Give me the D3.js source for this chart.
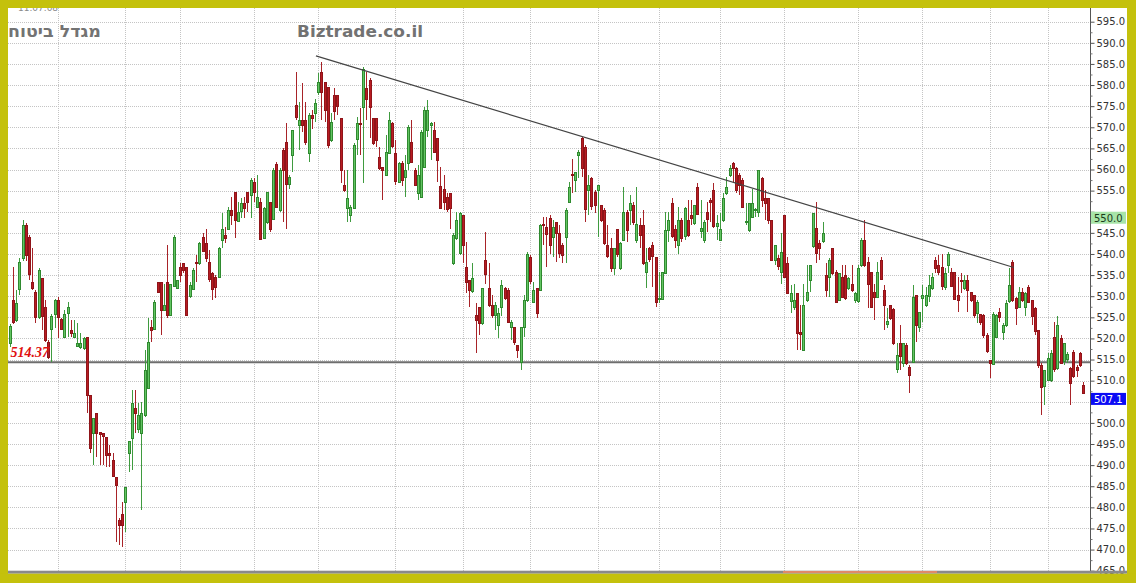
<!DOCTYPE html>
<html><head><meta charset="utf-8">
<script src="https://cdn.jsdelivr.net/npm/d3@7"></script>
<style>html,body{margin:0;padding:0;background:#fff;overflow:hidden}</style>
</head><body>
<svg id="c" width="1136" height="583"></svg>
<script>
// ---------- DATA ----------
const opens = [
518.9,529.1,524.4,531.9,539.0,546.9,544.1,533.4,531.1,525.1,
534.2,527.5,519.2,522.4,525.9,529.1,524.7,520.4,525.9,522.0,
520.4,518.0,517.9,517.6,520.4,506.6,497.5,502.3,497.9,497.5,
496.7,492.8,491.2,487.3,477.0,478.5,481.4,492.8,496.4,503.5,
498.5,497.5,501.9,508.2,522.8,522.4,533.4,533.4,526.7,533.4,
525.6,532.6,531.9,537.0,537.8,537.0,
529.9,531.8,538.2,537.8,544.1,542.5,538.2,535.4,534.6,534.6,
543.3,544.5,546.0,550.4,554.7,547.8,550.0,552.0,554.7,554.0,
557.1,551.2,552.4,543.7,547.6,552.4,548.4,561.4,550.4,564.6,
566.6,556.7,563.4,575.3,570.5,571.7,571.7,563.8,572.9,573.3,
578.4,583.2,580.8,579.6,567.0,577.6,577.6,572.1,556.3,550.8,
549.2,550.8,567.0,571.0,574.9,
579.2,581.2,572.1,572.1,563.0,560.7,558.7,563.8,570.9,563.8,
557.1,561.5,558.3,561.5,566.6,559.9,554.4,553.6,560.7,569.3,
570.5,569.3,567.4,556.0,555.5,553.6,554.4,537.8,543.7,540.1,
549.2,537.0,533.8,531.1,525.5,527.5,523.6,538.6,531.9,527.9,
525.5,523.2,527.5,531.9,531.5,522.8,522.8,518.4,514.5,522.8,
529.1,539.4,528.7,531.9,531.5,547.0,546.5,
548.4,544.1,547.6,544.9,542.1,544.1,552.4,558.9,557.5,563.4,
567.4,565.4,555.1,557.9,554.7,555.1,551.6,550.4,542.1,541.3,
536.6,546.0,536.6,543.3,550.0,550.4,551.6,543.3,546.9,546.9,
535.8,541.3,542.1,539.4,529.5,529.5,535.4,545.7,552.0,546.0,
542.1,548.0,544.1,548.0,549.2,547.3,555.9,545.3,543.3,550.0,
552.8,555.1,546.5,543.3,548.0,
554.4,558.7,561.5,560.3,558.7,557.5,547.6,545.7,548.8,550.4,
550.0,557.9,553.2,553.2,548.0,538.6,539.0,535.8,549.2,537.8,
528.7,527.5,530.7,521.6,517.3,529.1,533.8,541.7,546.1,542.5,
542.9,535.0,534.6,541.3,535.8,529.1,534.6,535.0,531.9,533.0,
529.1,528.7,537.4,543.3,538.2,535.8,531.1,529.9,538.6,531.5,
523.6,527.9,526.9,512.9,519.0,
514.1,518.4,513.3,514.5,530.3,522.8,529.5,527.9,529.9,531.9,
538.6,537.4,537.0,532.2,537.4,535.8,535.8,530.3,533.8,531.9,
533.8,531.1,530.3,526.0,525.9,525.5,520.8,514.9,514.1,520.4,
526.3,521.6,523.2,528.7,538.2,529.5,527.5,531.1,527.5,532.2,
529.1,527.1,522.0,513.7,508.6,510.2,510.2,520.4,512.9,520.0,
514.5,515.1,512.9,516.9,513.3,516.5,509.0
];
const highs = [
523.4,537.0,531.4,539.0,548.0,547.4,544.4,541.4,531.4,536.6,
534.4,529.1,519.7,525.9,529.4,529.9,524.9,526.7,528.7,524.4,
524.4,523.6,521.2,520.4,520.4,506.6,501.1,502.3,497.9,497.5,
496.7,494.8,492.8,487.3,477.4,481.3,484.9,495.6,507.8,507.8,
504.6,505.0,517.3,524.8,524.4,529.1,533.4,533.4,533.0,542.1,
533.0,544.5,533.8,537.8,537.8,537.0,
533.4,536.6,539.7,542.9,544.9,546.0,540.9,535.8,535.0,541.7,
549.6,546.5,551.2,553.6,554.7,552.4,553.2,553.6,554.7,558.0,
557.9,558.7,553.2,551.2,554.7,552.4,560.3,561.8,560.3,565.0,
570.9,558.7,569.3,583.2,576.0,580.4,576.0,573.3,574.1,576.8,
582.8,585.5,580.8,579.6,573.3,579.2,577.6,572.1,559.9,559.9,
551.6,566.2,572.5,574.5,584.3,
583.2,581.6,572.1,572.1,565.4,560.7,568.2,573.7,571.3,567.0,
561.8,562.0,563.4,570.5,571.7,560.3,561.0,569.3,574.9,576.5,
571.3,571.3,567.4,560.7,558.7,554.4,554.4,544.9,550.0,550.0,
549.2,542.9,533.8,537.8,528.3,527.5,531.9,545.3,537.8,530.3,
528.7,527.1,533.8,532.2,531.9,524.4,522.8,518.4,522.8,530.3,
540.5,539.7,533.4,531.9,547.2,548.8,548.8,
549.2,548.0,547.6,546.9,542.5,550.8,557.1,562.6,559.5,564.6,
567.8,565.8,558.7,558.3,555.1,556.3,551.6,550.8,546.9,543.7,
541.3,546.0,542.9,555.9,550.4,554.0,552.4,555.9,548.4,550.4,
541.3,541.7,542.9,539.4,535.8,535.8,550.0,550.0,553.2,546.9,
551.2,548.4,551.2,552.8,552.8,551.6,556.7,552.8,548.0,552.4,
553.2,556.7,549.2,549.6,554.4,
558.3,561.1,561.8,560.7,559.1,557.9,552.0,552.0,555.5,550.8,
559.9,558.3,555.1,553.2,548.0,542.1,539.8,544.9,549.2,539.4,
532.6,533.0,530.7,527.9,533.0,537.4,537.4,549.6,552.4,543.3,
547.6,537.8,539.0,541.3,536.2,535.4,537.4,537.4,534.6,537.4,
531.1,537.4,543.7,548.0,539.4,535.8,533.0,538.2,539.4,532.6,
527.1,527.9,527.1,518.8,523.2,
518.8,518.8,513.7,532.6,530.3,526.3,532.6,532.2,535.0,535.4,
539.4,539.8,540.1,536.6,540.5,536.6,535.8,534.6,535.4,535.0,
535.0,531.1,530.3,529.1,525.9,525.9,521.2,514.9,526.3,525.9,
527.1,523.6,529.1,536.6,538.6,529.9,532.2,531.9,531.1,532.6,
529.1,527.5,522.0,514.1,512.5,516.5,517.3,524.0,525.2,520.8,
518.8,516.9,513.3,517.3,513.7,516.9,509.8
];
const lows = [
517.9,523.4,524.0,530.4,538.4,538.4,533.8,531.4,523.6,524.7,
522.0,519.2,515.2,514.5,522.4,520.0,522.0,520.0,520.4,520.4,
520.0,518.0,517.6,517.3,502.3,492.8,490.0,492.0,490.0,490.0,
489.6,489.6,487.3,471.9,471.1,470.7,474.2,488.4,488.9,497.5,
497.5,479.4,501.5,508.2,519.2,522.0,530.7,520.8,526.4,524.8,
525.2,532.2,531.9,533.4,535.4,525.2,
529.5,531.4,533.4,537.4,540.5,538.2,533.4,529.1,529.5,534.2,
541.3,542.5,545.7,546.9,543.7,547.6,548.4,548.4,550.0,548.4,
552.4,550.8,543.3,543.7,547.2,545.3,548.0,550.8,550.0,547.6,
546.0,555.5,559.5,571.7,564.6,568.9,565.8,561.8,569.7,571.3,
577.6,571.7,571.3,565.0,566.6,571.7,573.0,556.7,554.7,547.6,
547.6,550.8,563.4,563.4,556.7,
571.7,567.4,565.8,565.4,559.9,552.8,558.7,563.8,565.0,556.3,
556.7,556.0,553.6,559.9,561.5,556.0,552.8,553.6,560.7,567.8,
562.2,563.8,557.1,550.8,550.4,550.0,546.0,537.4,543.3,539.7,
537.8,530.7,527.5,530.7,516.5,520.8,523.2,533.0,527.5,524.8,
522.0,520.0,525.2,529.1,523.6,519.6,518.4,515.3,512.5,520.4,
528.7,533.0,528.3,524.8,531.5,542.1,537.0,
540.1,539.4,538.2,539.0,537.8,537.8,552.0,554.4,554.7,557.9,
558.3,547.6,549.2,550.4,549.6,544.1,547.6,542.1,539.0,535.8,
535.0,539.4,536.2,543.3,542.9,546.9,546.9,542.5,541.3,537.4,
531.9,538.2,532.2,527.5,528.3,529.5,535.4,542.9,543.7,541.3,
540.1,542.9,543.3,544.1,546.9,546.9,549.2,543.7,542.5,545.3,
547.6,546.1,543.3,543.3,547.6,
554.0,558.3,556.7,554.4,554.0,550.8,546.9,545.3,548.4,548.8,
548.8,551.2,548.0,547.2,538.6,537.4,536.2,533.0,534.2,530.7,
526.0,526.8,517.3,517.3,517.3,528.7,531.1,541.3,537.8,538.6,
542.5,529.9,529.9,535.0,528.3,529.1,529.5,529.1,531.5,531.1,
528.3,528.3,537.0,537.0,527.1,527.1,524.4,529.5,533.8,522.0,
522.4,524.4,518.4,511.7,512.5,
513.3,513.7,507.0,514.1,519.2,521.6,524.0,527.5,528.7,531.5,
535.4,535.0,531.5,531.5,535.4,532.2,529.1,526.3,530.7,531.5,
526.3,528.7,524.8,523.6,523.2,520.0,516.5,510.6,513.7,520.0,
524.0,519.6,522.8,528.3,528.7,523.2,527.1,528.7,525.2,528.3,
523.2,520.8,512.9,501.9,504.2,510.2,509.8,512.1,512.5,514.1,
513.7,514.1,504.2,510.6,510.9,513.3,507.0
];
const closes = [
522.9,524.0,528.4,538.2,546.9,539.8,535.4,531.9,525.1,536.2,
525.1,519.6,515.7,525.4,529.1,525.1,522.4,525.9,527.4,521.2,
521.4,518.8,518.9,520.0,506.6,494.0,501.1,497.5,497.5,496.7,
492.4,492.4,487.3,485.4,475.8,475.8,484.9,495.6,504.6,502.3,
501.9,502.3,512.5,519.2,522.0,528.7,531.1,526.7,527.9,525.6,
533.0,544.1,533.8,535.0,536.2,525.6,
532.6,536.2,538.1,542.5,540.9,539.0,534.2,531.5,532.2,541.5,
546.0,543.7,550.4,549.2,548.0,550.0,552.0,550.8,552.4,557.5,
554.7,553.5,543.7,550.8,554.7,546.0,559.9,551.2,559.9,559.9,
556.7,558.3,569.3,572.5,571.7,570.5,566.6,572.9,572.1,575.7,
580.8,578.4,574.1,565.8,571.3,573.7,574.9,559.9,555.1,553.2,
551.2,565.8,570.9,570.9,583.9,
576.5,574.9,566.2,567.0,560.3,560.0,564.2,571.7,565.4,557.1,
561.5,557.5,559.9,570.1,561.8,556.3,558.7,569.0,574.1,574.1,
570.9,564.2,562.2,550.8,552.4,550.8,550.8,544.5,548.0,549.6,
542.1,533.4,531.5,534.2,524.4,523.6,531.9,535.4,527.9,525.5,
527.9,526.0,532.6,529.5,524.0,524.0,519.2,517.3,522.8,529.1,
540.1,533.8,531.5,526.0,546.9,546.8,544.9,
542.1,546.5,544.9,540.1,539.7,550.4,555.9,558.8,559.5,564.2,
560.3,550.8,556.3,551.2,551.6,556.3,548.0,542.5,539.4,536.6,
541.3,540.1,542.5,550.0,545.7,552.0,547.6,547.2,544.5,537.8,
538.2,538.6,539.4,528.7,529.6,535.8,545.7,548.0,544.1,543.3,
548.0,543.7,550.8,544.5,548.4,551.6,549.6,546.1,547.6,548.4,
552.4,546.5,547.3,546.0,553.2,
555.9,560.3,560.3,555.1,556.3,551.2,547.8,552.0,552.0,550.6,
559.9,552.8,552.0,548.0,538.6,542.1,537.0,540.5,534.6,530.7,
530.7,529.1,521.2,521.2,527.9,531.1,537.4,549.6,540.1,541.3,
544.9,531.5,538.6,535.4,528.7,535.4,529.9,529.5,534.2,531.5,
530.7,536.6,543.3,537.4,533.0,527.5,529.9,535.8,534.2,527.9,
524.2,524.8,518.8,516.1,516.0,
518.8,514.1,511.3,529.9,523.2,526.3,530.3,530.3,532.6,534.6,
536.6,535.8,532.6,535.4,540.1,532.6,529.5,529.1,533.7,533.8,
531.5,529.1,525.5,528.7,524.0,520.8,516.9,514.1,525.9,525.5,
525.2,523.2,528.3,532.6,529.1,527.1,531.1,529.1,530.7,528.7,
525.2,521.6,513.7,508.6,512.5,515.3,516.5,512.9,523.2,514.1,
518.8,516.3,509.4,511.3,512.5,513.7,507.1
];
const yTickValues = [465,470,475,480,485,490,495,500,505,510,515,520,525,530,535,540,545,550,555,560,565,570,575,580,585,590,595];
const yMinorValues = [467.5,472.5,477.5,482.5,487.5,492.5,497.5,502.5,507.5,512.5,517.5,522.5,527.5,532.5,537.5,542.5,547.5,552.5,557.5,562.5,567.5,572.5,577.5,582.5,587.5,592.5];
const monthStarts = [15,36,53,76,96,120,141,162,183,202,221,241,264,284,305,323];
const refLevel = 514.37;
const trendIdx = [95.3, 312.5];
const trendVal = [586.9, 536.8];
const greenLevel = 550.0;
const lastLevel = 507.1;
const titleText = "מגדל ביטוח";
const brandText = "Biztrade.co.il";
const dateText = "11.07.08";

// ---------- DRAW ----------
const W = 1136, H = 583;
const L = 8, R = 1090, T = 8, B = 571, RR = 1127;
const svg = d3.select('#c');
const x = d3.scaleLinear().domain([0, opens.length - 1]).range([9.7, 1083]);
const y = d3.scaleLinear().domain([465, 595]).range([570.7, 21.7]);

svg.append('rect').attr('width', W).attr('height', H).attr('fill', '#fff');

// grid
const grid = svg.append('g').attr('shape-rendering', 'crispEdges');
grid.selectAll('line.h').data(yTickValues).join('line')
  .attr('x1', L).attr('x2', R)
  .attr('y1', d => Math.round(y(d)) + 0.5).attr('y2', d => Math.round(y(d)) + 0.5)
  .attr('stroke', '#c4c4c4').attr('stroke-dasharray', '1,1');
grid.selectAll('line.v').data(monthStarts).join('line')
  .attr('y1', T).attr('y2', B)
  .attr('x1', d => Math.round(x(d)) + 0.5).attr('x2', d => Math.round(x(d)) + 0.5)
  .attr('stroke', '#c4c4c4').attr('stroke-dasharray', '1,1');

// reference line
svg.append('line').attr('x1', L).attr('x2', R)
  .attr('y1', y(refLevel)).attr('y2', y(refLevel))
  .attr('stroke', '#6e6e6e').attr('stroke-width', 2);

// candles
const idx = d3.range(opens.length);
const cg = svg.append('g').attr('shape-rendering', 'crispEdges');
const up = i => closes[i] >= opens[i];
cg.selectAll('line.w').data(idx).join('line')
  .attr('x1', i => Math.round(x(i)) + 0.5).attr('x2', i => Math.round(x(i)) + 0.5)
  .attr('y1', i => y(highs[i])).attr('y2', i => y(lows[i]))
  .attr('stroke', i => up(i) ? '#3f9b3f' : '#a82328').attr('stroke-width', 1);
cg.selectAll('rect.b').data(idx).join('rect')
  .attr('x', i => Math.round(x(i)) - 0.5)
  .attr('width', 2)
  .attr('y', i => Math.round(y(Math.max(opens[i], closes[i]))) + 0.5)
  .attr('height', i => Math.max(1, Math.round(Math.abs(y(opens[i]) - y(closes[i])))))
  .attr('fill', i => up(i) ? '#63c563' : '#b81c22')
  .attr('stroke', i => up(i) ? '#2f8a2f' : '#8f1419').attr('stroke-width', 1);

// trend line
svg.append('line')
  .attr('x1', x(trendIdx[0])).attr('y1', y(trendVal[0]))
  .attr('x2', x(trendIdx[1])).attr('y2', y(trendVal[1]))
  .attr('stroke', '#444').attr('stroke-width', 1.2);

// right axis area (labels hidden under the value boxes are left blank, as in the reference)
const hidden = v => Math.abs(y(v) - (y(greenLevel) + 6)) < 9 || Math.abs(y(v) - (y(lastLevel) + 6)) < 9;
svg.append('line').attr('x1', R + 0.5).attr('x2', R + 0.5).attr('y1', T).attr('y2', B)
  .attr('stroke', '#555').attr('shape-rendering', 'crispEdges');
const ax = svg.append('g').attr('transform', `translate(${R + 0.5},0)`)
  .call(d3.axisRight(y).tickValues(yTickValues)
    .tickFormat(v => hidden(v) ? '' : d3.format('.1f')(v))
    .tickSize(4).tickSizeOuter(0).tickPadding(2));
ax.select('.domain').remove();
ax.selectAll('line').attr('stroke', '#555');
ax.selectAll('text').attr('font-family', 'DejaVu Sans, Verdana, sans-serif').attr('font-size', 10).attr('fill', '#333');
const axm = svg.append('g').attr('transform', `translate(${R + 0.5},0)`)
  .call(d3.axisRight(y).tickValues(yMinorValues).tickFormat('').tickSize(2).tickSizeOuter(0));
axm.select('.domain').remove();
axm.selectAll('line').attr('stroke', '#777');

// value boxes
function box(v, bg, fg) {
  const yy = y(v);
  svg.append('rect').attr('x', R + 1).attr('y', yy).attr('width', 35).attr('height', 12).attr('fill', bg);
  svg.append('text').attr('x', R + 4).attr('y', yy + 10).text(d3.format('.1f')(v))
    .attr('font-family', 'DejaVu Sans, Verdana, sans-serif').attr('font-size', 10).attr('fill', fg);
}
box(greenLevel, '#a8e4a8', '#1a3a1a');
box(lastLevel, '#0b0bf5', '#ffffff');

// ref label
svg.append('text').attr('x', 49).attr('y', 357).attr('text-anchor', 'end')
  .attr('font-family', 'Liberation Serif, serif').attr('font-weight', 'bold').attr('font-style', 'italic')
  .attr('font-size', 14).attr('fill', '#e01010').text(refLevel.toFixed(2));

// titles
svg.append('text').attr('x', 101).attr('y', 37).attr('text-anchor', 'end')
  .attr('textLength', 93).attr('lengthAdjust', 'spacingAndGlyphs')
  .attr('font-family', 'DejaVu Sans, sans-serif').attr('font-weight', 'bold').attr('font-size', 17)
  .attr('fill', '#737373').text(titleText);
svg.append('text').attr('x', 297).attr('y', 37).attr('textLength', 126).attr('lengthAdjust', 'spacingAndGlyphs')
  .attr('font-family', 'DejaVu Sans, Verdana, sans-serif').attr('font-weight', 'bold').attr('font-size', 16)
  .attr('fill', '#727272').text(brandText);
svg.append('text').attr('x', 18).attr('y', 11)
  .attr('font-family', 'DejaVu Sans, sans-serif').attr('font-size', 9).attr('fill', '#8a8a8a').text(dateText);

// bottom bar
svg.append('rect').attr('x', L).attr('y', 570.7).attr('width', RR - L).attr('height', 3).attr('fill', '#8a8a8a');
svg.append('rect').attr('x', 783).attr('y', 571).attr('width', 154).attr('height', 2).attr('fill', '#e08a68');

// yellow frame
const frame = '#c4c10c';
svg.append('rect').attr('x', 0).attr('y', 0).attr('width', W).attr('height', T).attr('fill', frame);
svg.append('rect').attr('x', 0).attr('y', 0).attr('width', L).attr('height', H).attr('fill', frame);
svg.append('rect').attr('x', RR).attr('y', 0).attr('width', W - RR).attr('height', H).attr('fill', frame);
svg.append('rect').attr('x', 0).attr('y', 573.7).attr('width', W).attr('height', H - 573.7).attr('fill', frame);
</script>
</body></html>
